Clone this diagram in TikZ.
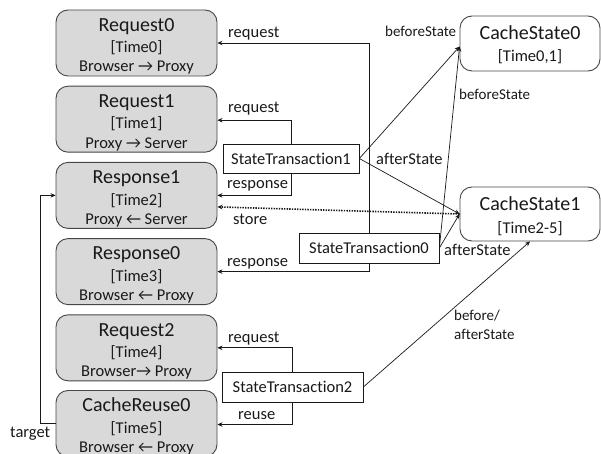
\documentclass[tikz,border=0pt]{standalone}
\usepackage{fontspec}
\setmainfont{Carlito}[Ligatures=NoCommon]
\usetikzlibrary{arrows.meta}
\definecolor{boxfill}{RGB}{217,217,217}
\definecolor{boxline}{RGB}{70,70,70}
\definecolor{ink}{RGB}{25,25,25}
\tikzset{
  x=1pt, y=-1pt,
  msgbox/.style={draw=boxline, fill=boxfill, line width=0.9pt, rounded corners=12pt,
    minimum width=161pt, minimum height=66pt, inner sep=0pt},
  statebox/.style={draw=boxline, fill=white, line width=0.9pt, rounded corners=12pt,
    minimum width=140pt, inner sep=0pt},
  transbox/.style={draw=ink, fill=white, line width=0.7pt, inner sep=0pt,
    font=\fontsize{16.5}{18}\selectfont, text=ink},
  ttl/.style={anchor=base, inner sep=0pt, text=ink, font=\fontsize{20}{22}\selectfont},
  sub/.style={anchor=base, inner sep=0pt, text=ink, font=\fontsize{16.5}{18}\selectfont},
  lab/.style={anchor=west, inner sep=0pt, text=ink, text height=11.5pt, text depth=3.3pt,
    font=\fontsize{16.5}{18}\selectfont},
  slab/.style={anchor=west, inner sep=0pt, text=ink, text height=10.5pt, text depth=3pt,
    font=\fontsize{15}{19}\selectfont},
  conn/.style={draw=ink, line width=0.7pt, -{Stealth[length=5pt,width=4.5pt]}},
  storeline/.style={draw=ink, line width=1.6pt, dash pattern=on 1.4pt off 1.2pt,
    -{Stealth[length=5pt,width=4.5pt]}},
}
% message box: name, top edge, title, time, direction
\newcommand\msgnode[5]{%
  \node[msgbox] (#1) at (136.5,#2+33) {};
  \node[ttl] (#1-t) at (136.5,#2+21.3) {#3};
  \node[sub] (#1-s) at (136.5,#2+42.8) {#4};
  \node[sub] (#1-d) at (136.5,#2+62) {#5};
}
% cache state box: name, top edge, height, title, time range
\newcommand\statenode[5]{%
  \node[statebox, minimum height=#3pt] (#1) at (530,#2+#3/2) {};
  \node[ttl] (#1-t) at (530,#2+24) {#4};
  \node[sub] (#1-s) at (530,#2+46) {#5};
}
\begin{document}
\begin{tikzpicture}
\useasboundingbox (0,0) rectangle (601,454);

% messages
\msgnode{rq0}{10}{Request0}{[Time0]}{Browser → Proxy}
\msgnode{rq1}{86.2}{Request1}{[Time1]}{Proxy → Server}
\msgnode{rs1}{162.4}{Response1}{[Time2]}{Proxy ← Server}
\msgnode{rs0}{238.6}{Response0}{[Time3]}{Browser ← Proxy}
\msgnode{rq2}{314.8}{Request2}{[Time4]}{Browser→ Proxy}
\msgnode{cr0}{390.5}{CacheReuse0}{[Time5]}{Browser ← Proxy}

% cache states
\statenode{cs0}{16}{55}{CacheState0}{[Time0,1]}
\statenode{cs1}{187}{54}{CacheState1}{[Time2-5]}

% state transactions
\node[transbox, minimum width=136pt, minimum height=29pt] (st1) at (291,158.5) {StateTransaction1};
\node[transbox, minimum width=140pt, minimum height=30pt] (st0) at (369,248) {StateTransaction0};
\node[transbox, minimum width=141pt, minimum height=30pt] (st2) at (292.5,387) {StateTransaction2};

% transaction -> message links
\draw[conn] (st0.north) |- (rq0.east);
\draw[conn] (st0.south) |- (rs0.east);
\draw[conn] (st1.north) |- ([yshift=-1pt]rq1.east);
\draw[conn] (st1.south) |- (rs1.east);
\draw[conn] (st2.north) |- (rq2.east);
\draw[conn] (st2.south) |- ([yshift=-1pt]cr0.east);

% transaction -> cache state links
\draw[conn] (st1.east) -- ([yshift=-3pt]cs0.west);
\draw[conn] (st1.east) -- (cs1.west);
\draw[conn] (st0.east) -- ([yshift=-3pt]cs0.west);
\draw[conn] (st0.east) -- (cs1.west);
\draw[conn] (st2.east) -- (cs1.south);

% stored response
\draw[storeline] (cs1.west) -- ([yshift=-11.5pt]rs1.east);

% reuse target
\draw[conn] (cr0.west) -- ++(-15,0) coordinate (tg) |- (rs1.west);

% labels
\node[lab] (l-rq0) at (228,33) {request};
\node[lab] (l-rq1) at (228,108) {request};
\node[lab] (l-rs1) at (227,184) {response};
\node[lab] (l-store) at (233,220) {store};
\node[lab] (l-rs0) at (227,262) {response};
\node[lab] (l-rq2) at (228,338) {request};
\node[lab] (l-reuse) at (238,415) {reuse};
\node[lab] (l-target) at (10,433) {target};
\node[slab] (l-bs1) at (385,33) {beforeState};
\node[slab] (l-bs0) at (459,96) {beforeState};
\node[lab] (l-as1) at (376,160) {afterState};
\node[lab] (l-as0) at (444,251) {afterState};
\node[slab, anchor=north west, align=left, text height=, text depth=] (l-ba) at (454,310) {before/\\afterState};
\end{tikzpicture}
\end{document}
